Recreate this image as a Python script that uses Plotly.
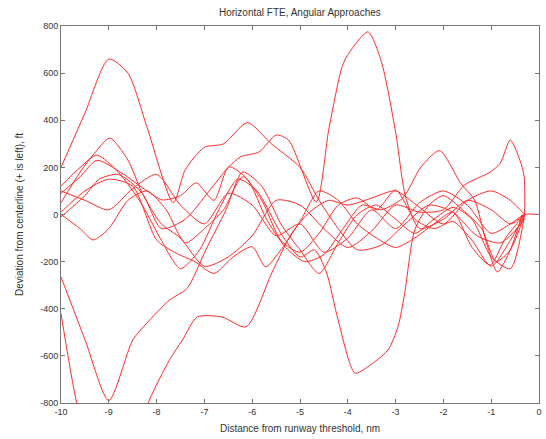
import plotly.graph_objects as go

# ---- data ----
c1_x = [-10, -9.5, -9.0, -8.6, -8.2, -7.65, -7.4, -7.0, -6.6, -6.1, -5.6, -5.0, -4.6, -4.2, -3.8, -3.3, -2.8, -2.3, -1.8, -1.3, -0.8, -0.3]
c1_y = [200, 430, 660, 600, 370, 50, 190, 285, 300, 390, 300, 200, 60, -60, -150, -130, -40, 40, 10, -90, -120, -20]

c2_x = [-10, -9.5, -9.2, -8.8, -8.3, -7.9, -7.4, -6.9, -6.5, -6.24, -5.86, -5.5, -5.24, -4.66, -4.4, -4.14, -4.03, -3.58, -3.3, -3.0, -2.79, -2.5, -2.0, -1.5, -1.0, -0.6, -0.3]
c2_y = [-10, 80, 150, 170, 90, -60, -20, 100, 200, 245, 265, 337, 316, 53, 358, 613, 668, 775, 650, 350, 74, -60, -20, 60, 20, -40, 0]

c3_x = [-10, -9.6, -9.25, -8.8, -8.3, -7.9, -7.5, -7.1, -6.7, -6.3, -5.9, -5.4, -5.0, -4.7, -4.45, -4.2, -3.85, -3.58, -3.16, -2.95, -2.81, -2.6, -2.3, -2.0, -1.6, -1.2, -0.9, -0.6, -0.3]
c3_y = [120, 200, 252, 180, 40, -110, -230, -150, 20, 150, 100, -80, -180, -150, -244, -450, -673, -646, -575, -476, -334, -66, 40, 80, 20, -60, -200, -150, 0]

c4_x = [-10, -9.67, -9.3, -8.9, -8.5, -8.15, -7.73, -7.46, -7.15, -6.63, -6.13, -5.59, -5.17, -4.8, -4.4, -4.0, -3.5, -3.0, -2.5, -2.0, -1.5, -1.0, -0.6, -0.3]
c4_y = [-420, -800, -1050, -1150, -1000, -787, -617, -533, -435, -435, -477, -248, -79, 10, 60, 40, 70, 100, 30, -40, 60, 100, 60, 0]

c5_x = [-10, -9.5, -9.0, -8.5, -8.21, -7.73, -7.36, -6.97, -6.55, -6.2, -5.8, -5.4, -5.0, -4.6, -4.2, -3.8, -3.4, -3.0, -2.6, -2.2, -1.8, -1.4, -1.0, -0.6, -0.3]
c5_y = [-265, -530, -790, -533, -462, -363, -313, -150, 19, 180, 120, -40, -150, -250, -120, 0, 40, -20, -80, -20, 30, -20, -180, -230, 0]

c6_x = [-10, -9.6, -9.25, -8.73, -8.2, -7.88, -7.5, -7.17, -6.8, -6.49, -6.1, -5.7, -5.3, -4.9, -4.5, -4.1, -3.7, -3.3, -2.85, -2.47, -2.08, -1.64, -1.35, -1.1, -0.87, -0.6, -0.35]
c6_y = [90, 160, 230, 176, 100, 62, 80, 134, 60, 202, 150, -20, -140, -200, -170, -60, 40, 20, 70, 201, 271, 133, 62, -120, -244, -150, 0]

c7_x = [-10, -9.6, -9.3, -8.98, -8.6, -8.3, -7.9, -7.5, -7.0, -6.5, -6.0, -5.5, -5.0, -4.5, -4.0, -3.5, -3.0, -2.5, -2.0, -1.56, -1.02, -0.81, -0.6, -0.4, -0.31, -0.3]
c7_y = [50, 180, 260, 324, 231, 90, -40, -100, -220, -180, -90, 60, 40, -60, -140, -70, 40, 10, 20, 125, 180, 218, 316, 231, 160, 0]

c8_x = [-10, -9.6, -9.33, -9.0, -8.6, -8.2, -7.8, -7.4, -7.0, -6.6, -6.2, -5.8, -5.4, -5.0, -4.6, -4.2, -3.8, -3.4, -3.0, -2.6, -2.2, -1.8, -1.4, -1.0, -0.6, -0.3]
c8_y = [0, -60, -108, -60, 60, 100, 20, -120, -60, 20, 160, 60, -110, -160, -80, 40, 70, 20, 104, -20, -60, -30, -110, -220, -110, 0]

c9_x = [-10, -9.5, -9.0, -8.5, -8.0, -7.6, -7.2, -6.8, -6.4, -6.0, -5.72, -5.4, -5.0, -4.6, -4.2, -3.8, -3.4, -3.0, -2.6, -2.2, -1.8, -1.4, -1.02, -0.7, -0.3]
c9_y = [10, 100, 150, 120, -108, -163, -200, -250, -180, -137, -222, -150, -30, 100, 60, -40, -100, -140, -100, -40, 10, -140, -214, -100, 0]

c10_x = [-10, -9.5, -9.0, -8.5, -8.0, -7.5, -7.0, -6.5, -6.0, -5.5, -5.0, -4.5, -4.0, -3.5, -3.0, -2.5, -2.0, -1.5, -1.0, -0.6, -0.3, 0.0]
c10_y = [100, 60, 20, 110, 170, 40, -40, 90, 40, -90, -40, -160, -100, 20, -60, 50, 100, 40, -80, -40, 0, 0]

series = [(c1_x, c1_y), (c2_x, c2_y), (c3_x, c3_y), (c4_x, c4_y), (c5_x, c5_y),
          (c6_x, c6_y), (c7_x, c7_y), (c8_x, c8_y), (c9_x, c9_y), (c10_x, c10_y)]

x_ticks = [-10, -9, -8, -7, -6, -5, -4, -3, -2, -1, 0]
y_ticks = [-800, -600, -400, -200, 0, 200, 400, 600, 800]

title_text = "Horizontal FTE, Angular Approaches"
x_label = "Distance from runway threshold, nm"
y_label = "Deviation from centerline (+ is left), ft"

fig = go.Figure()
for sx, sy in series:
    fig.add_trace(go.Scatter(x=sx, y=sy, mode="lines",
                             line=dict(color="#ff2a2a", width=1, shape="spline", smoothing=0.7),
                             showlegend=False, hoverinfo="skip"))

axis_common = dict(showline=True, linecolor="#777", linewidth=1, mirror="ticks",
                   ticks="inside", ticklen=4, tickcolor="#777", showgrid=False,
                   zeroline=False, tickfont=dict(family="Liberation Sans", size=9, color="#333"))

fig.update_layout(
    width=546, height=439,
    margin=dict(l=61, r=4, t=26, b=36),
    paper_bgcolor="white", plot_bgcolor="white",
    xaxis=dict(range=[-10, 0], tickvals=x_ticks, ticktext=[str(v) for v in x_ticks], **axis_common),
    yaxis=dict(range=[-800, 800], tickvals=y_ticks, ticktext=[str(v) for v in y_ticks], **axis_common),
    annotations=[
        dict(text=title_text, x=0.5, y=1, xref="paper", yref="paper", xanchor="center", yanchor="bottom",
             yshift=6, showarrow=False, font=dict(family="Liberation Sans", size=10, color="#333")),
        dict(text=x_label, x=0.5, y=0, xref="paper", yref="paper", xanchor="center", yanchor="top",
             yshift=-18, showarrow=False, font=dict(family="Liberation Sans", size=10, color="#333")),
        dict(text=y_label, x=0, y=0.5, xref="paper", yref="paper", xanchor="right", yanchor="middle",
             xshift=-34, textangle=-90, showarrow=False, font=dict(family="Liberation Sans", size=10, color="#333")),
    ],
)

fig.write_html("out.html")
